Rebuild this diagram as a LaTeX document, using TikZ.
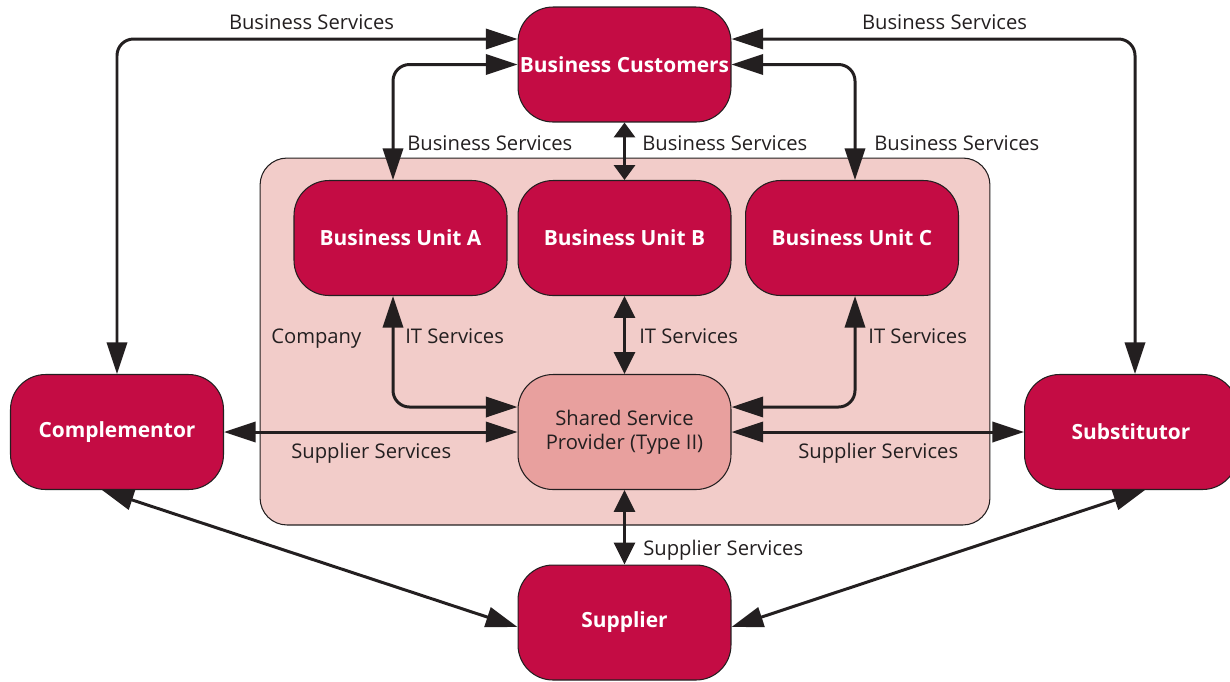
\documentclass[tikz,border=0pt]{standalone}
\usepackage{fontspec}
\setmainfont{Open Sans}
\usetikzlibrary{arrows.meta}

\definecolor{boxred}{RGB}{196,12,68}
\definecolor{companybg}{RGB}{242,204,201}
\definecolor{sspred}{RGB}{232,160,158}
\definecolor{ink}{RGB}{35,31,32}

\tikzset{
  unit/.style={draw=ink, line width=0.6pt, fill=boxred, rounded corners=0.7cm,
    minimum width=4.26cm, minimum height=2.3cm, inner sep=0pt, align=center,
    text=white, font=\bfseries\fontsize{11.9}{14}\selectfont},
  frame/.style={draw=ink, line width=0.6pt, fill=companybg, rounded corners=0.54cm,
    minimum width=14.6cm, minimum height=7.34cm},
  lbl/.style={text=ink, inner sep=0pt, font=\fontsize{11.5}{13.6}\selectfont},
  flow/.style={<->, draw=ink, line width=1.7pt, rounded corners=0.33cm},
  midtips/.style={arrows={Triangle[length=12.5pt,width=12pt]-Triangle[length=12.5pt,width=12pt]}},
  shorttips/.style={arrows={Triangle[length=8.5pt,width=12pt]-Triangle[length=8.5pt,width=12pt]}}
}

\begin{document}
\begin{tikzpicture}[x=0.02cm, y=-0.02cm, >={Triangle[length=18pt,width=11.5pt]}]
  \useasboundingbox (0,0) rectangle (1230,681);

  % company
  \node[frame] (company) at (625,341.5) {};
  \node[lbl, anchor=base west] (companylbl) at (271,343) {Company};

  % boxes
  \node[unit] (cust) at (624.5,64.5) {Business Customers};
  \node[unit] (bua) at (400.5,238) {Business Unit A};
  \node[unit] (bub) at (624.5,238) {Business Unit B};
  \node[unit] (buc) at (852,238) {Business Unit C};
  \node[unit, fill=sspred, text=ink, font=\fontsize{11.5}{13.6}\selectfont] (ssp) at (624.5,432) {Shared Service\\Provider (Type II)};
  \node[unit] (compl) at (117,432) {Complementor};
  \node[unit] (subst) at (1131,432) {Substitutor};
  \node[unit] (supp) at (624.5,622.5) {Supplier};

  % business services
  \draw[flow] (compl.north) |- ([yshift=0.51cm]cust.west);
  \draw[flow] ([xshift=-0.15cm]bua.north) |- (cust.west);
  \draw[flow, shorttips] (cust.south) -- (bub.north);
  \draw[flow] ([xshift=0.06cm]buc.north) |- (cust.east);
  \draw[flow] ([xshift=0.08cm]subst.north) |- ([yshift=0.51cm]cust.east);
  \node[lbl, anchor=base] (bs1) at (311.5,29) {Business Services};
  \node[lbl, anchor=base] (bs2) at (944.5,29) {Business Services};
  \node[lbl, anchor=base west] (bs3) at (407,150) {Business Services};
  \node[lbl, anchor=base west] (bs4) at (642,150) {Business Services};
  \node[lbl, anchor=base west] (bs5) at (874,150) {Business Services};

  % it services
  \draw[flow] ([xshift=-0.15cm]bua.south) |- ([yshift=0.5cm]ssp.west);
  \draw[flow, midtips] (bub.south) -- (ssp.north);
  \draw[flow] ([xshift=0.06cm]buc.south) |- ([yshift=0.5cm]ssp.east);
  \node[lbl, anchor=base west] (it1) at (405,343) {IT Services};
  \node[lbl, anchor=base west] (it2) at (639,343) {IT Services};
  \node[lbl, anchor=base west] (it3) at (868,343) {IT Services};

  % supplier services
  \draw[flow] (ssp.west) -- (compl.east);
  \draw[flow] (ssp.east) -- (subst.west);
  \draw[flow, midtips] (ssp.south) -- (supp.north);
  \draw[flow] ([xshift=-0.3cm]compl.south) -- ([yshift=-0.09cm]supp.west);
  \draw[flow] ([xshift=0.28cm]subst.south) -- ([yshift=-0.09cm]supp.east);
  \node[lbl, anchor=base west] (ss1) at (291,458) {Supplier Services};
  \node[lbl, anchor=base west] (ss2) at (798,458) {Supplier Services};
  \node[lbl, anchor=base west] (ss3) at (643,555) {Supplier Services};
\end{tikzpicture}
\end{document}
